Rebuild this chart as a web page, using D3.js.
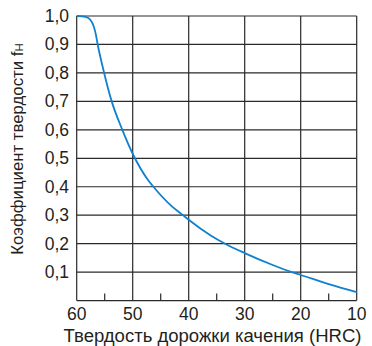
<!DOCTYPE html>
<html>
<head>
<meta charset="utf-8">
<script src="https://cdn.jsdelivr.net/npm/d3@7"></script>
<style>
  html, body { margin: 0; padding: 0; background: #fff; }
  svg { display: block; }
  text { font-family: "Liberation Sans", Arial, sans-serif; fill: #231f20; }
</style>
</head>
<body>
<svg id="chart" width="372" height="346"></svg>
<script>
// Raceway hardness (HRC) and the matching hardness factor fH
const hardness = [60, 59, 58, 57.5, 57, 56.6, 56.25, 55.1, 53.75, 51.85, 50, 47.2, 46.3, 43, 41, 40, 36, 33.5, 30, 25, 21.6, 20, 15, 10];
const factor   = [1.0, 0.999, 0.994, 0.985, 0.966, 0.937, 0.9, 0.8, 0.7, 0.6, 0.516, 0.422, 0.4, 0.331, 0.3, 0.284, 0.228, 0.2, 0.167, 0.125, 0.1, 0.09, 0.058, 0.03];

const xTicks = [60, 50, 40, 30, 20, 10];
const xMinorTicks = [55, 45, 35, 25, 15];
const yTicks = [0.1, 0.2, 0.3, 0.4, 0.5, 0.6, 0.7, 0.8, 0.9, 1.0];

const xLabel = "Твердость дорожки качения (HRC)";
const yLabel = "Коэффициент твердости f";
const yLabelSub = "H";

const svg = d3.select("#chart");
const plotLeft = 76.7, plotRight = 356.7, plotTop = 16, plotBottom = 300.6;

const x = d3.scaleLinear().domain([60, 10]).range([plotLeft, plotRight]);
const y = d3.scaleLinear().domain([0, 1]).range([plotBottom, plotTop]);

const fmt = v => d3.format(".1f")(v).replace(".", ",");

// grid
const grid = svg.append("g").attr("stroke", "#2a2a2a").attr("stroke-width", 1.2);
grid.selectAll("line.h").data(yTicks).join("line")
  .attr("x1", plotLeft).attr("x2", plotRight)
  .attr("y1", d => y(d)).attr("y2", d => y(d));
grid.selectAll("line.v").data(xTicks).join("line")
  .attr("y1", plotTop).attr("y2", plotBottom)
  .attr("x1", d => x(d)).attr("x2", d => x(d));
// bottom axis line
grid.append("line").attr("x1", plotLeft).attr("x2", plotRight).attr("y1", plotBottom).attr("y2", plotBottom);
// minor ticks on bottom axis pointing up
grid.selectAll("line.m").data(xMinorTicks).join("line")
  .attr("x1", d => x(d)).attr("x2", d => x(d))
  .attr("y1", plotBottom).attr("y2", plotBottom - 7);

// y tick labels
svg.append("g").selectAll("text").data(yTicks).join("text")
  .attr("x", 69).attr("y", d => y(d) + 6)
  .attr("text-anchor", "end").attr("font-size", 17.5)
  .text(fmt);

// x tick labels
svg.append("g").selectAll("text").data(xTicks).join("text")
  .attr("x", d => x(d)).attr("y", 320)
  .attr("text-anchor", "middle").attr("font-size", 17.5)
  .text(d => d);

// axis titles
svg.append("text").attr("x", 212.5).attr("y", 342)
  .attr("text-anchor", "middle").attr("font-size", 17.5)
  .attr("textLength", 298).attr("lengthAdjust", "spacingAndGlyphs")
  .text(xLabel);

const yt = svg.append("text")
  .attr("transform", "translate(23,149) rotate(-90)")
  .attr("text-anchor", "middle").attr("font-size", 16.8);
yt.append("tspan").text(yLabel);
yt.append("tspan").attr("font-size", 11.5).text(yLabelSub);

// curve
const pts = hardness.map((h, i) => [h, factor[i]]);
const line = d3.line().x(d => x(d[0])).y(d => y(d[1])).curve(d3.curveMonotoneX);
svg.append("path").datum(pts)
  .attr("d", line)
  .attr("fill", "none")
  .attr("stroke", "#1180cf")
  .attr("stroke-width", 1.8);
</script>
</body>
</html>
